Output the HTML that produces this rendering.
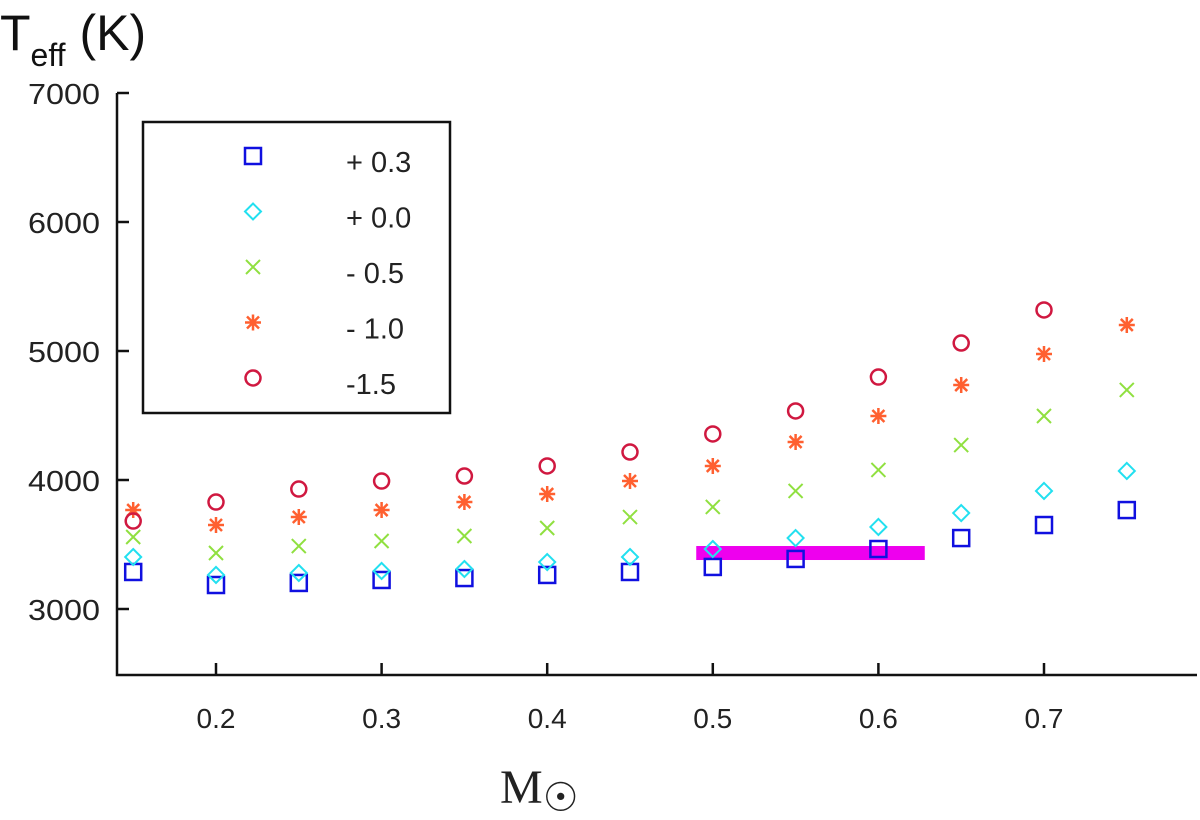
<!DOCTYPE html>
<html><head><meta charset="utf-8"><style>
body{margin:0;background:#fff;}
svg{display:block;font-family:"Liberation Sans",sans-serif;}
</style></head><body>
<svg id="chart" width="1200" height="820" viewBox="0 0 1200 820">
<text x="0" y="50" font-size="50" fill="#111">T<tspan font-size="32" dy="16">eff</tspan><tspan dy="-16"> (K)</tspan></text>
<text x="500" y="803" font-size="48" font-family="Liberation Serif,serif" fill="#222">M<tspan font-size="40" dy="8">☉</tspan></text>
<g id="axes"></g>
<g id="marks"></g>
<g id="legend"></g>
</svg>
<script>
const masses=[0.15,0.2,0.25,0.3,0.35,0.4,0.45,0.5,0.55,0.6,0.65,0.7,0.75];
const xTicks=[0.2,0.3,0.4,0.5,0.6,0.7];
const yTicks=[3000,4000,5000,6000,7000];
const seriesP03=[3287,3186,3202,3225,3240,3264,3287,3326,3388,3465,3550,3651,3767];
const seriesP00=[3403,3264,3279,3295,3310,3364,3403,3465,3550,3636,3744,3915,4070];
const seriesM05=[3558,3434,3488,3527,3566,3628,3713,3791,3915,4078,4271,4496,4698];
const seriesM10=[3767,3651,3713,3767,3829,3891,3992,4109,4295,4496,4736,4977,5202];
const seriesM15=[3682,3829,3930,3992,4031,4109,4217,4357,4535,4798,5062,5318];
const legendLabels=["+ 0.3","+ 0.0","- 0.5","- 1.0","-1.5"];
const bandRange=[0.49,0.628];
const bandValue=3434;

const NS="http://www.w3.org/2000/svg";
const X=m=>216+(m-0.2)*1656;
const Y=v=>93+(7000-v)*0.129;
function mk(tag,attrs,parent){const e=document.createElementNS(NS,tag);for(const k in attrs)e.setAttribute(k,attrs[k]);parent.appendChild(e);return e;}
const axes=document.getElementById('axes'),marks=document.getElementById('marks'),legend=document.getElementById('legend');
let e=mk('path',{d:'M117 93 V675 H1197',fill:'none',stroke:'#111','stroke-width':2.5},axes);


yTicks.forEach(v=>{
 let t=mk('line',{x1:117,x2:129,y1:Y(v),y2:Y(v),stroke:'#111','stroke-width':2.5},axes);
 
 
 let l=mk('text',{x:100,y:Y(v)+11,'font-size':29,'text-anchor':'end',fill:'#222',textLength:72,lengthAdjust:'spacingAndGlyphs'},axes);l.textContent=v;
 
 
});
xTicks.forEach(m=>{
 let t=mk('line',{x1:X(m),x2:X(m),y1:663,y2:675,stroke:'#111','stroke-width':2.5},axes);
 
 
 let l=mk('text',{x:X(m),y:728,'font-size':28,'text-anchor':'middle',fill:'#222',textLength:39,lengthAdjust:'spacingAndGlyphs'},axes);l.textContent=m.toFixed(1);
 
 
});
let band=mk('rect',{x:X(bandRange[0]),y:Y(bandValue)-7,width:X(bandRange[1])-X(bandRange[0]),height:14,fill:'#ee00ee'},marks);


function marker(type,cx,cy,parent){
 let g=mk('g',{},parent);
 if(type==='sq')mk('rect',{x:cx-8,y:cy-8,width:16,height:16,fill:'none',stroke:'#1010e0','stroke-width':2.5},g);
 else if(type==='di')mk('path',{d:`M${cx} ${cy-8}L${cx+8} ${cy}L${cx} ${cy+8}L${cx-8} ${cy}Z`,fill:'none',stroke:'#22e0f0','stroke-width':2},g);
 else if(type==='x')mk('path',{d:`M${cx-7} ${cy-7}L${cx+7} ${cy+7}M${cx+7} ${cy-7}L${cx-7} ${cy+7}`,stroke:'#90e040','stroke-width':2},g);
 else if(type==='st')mk('path',{d:`M${cx-8} ${cy}H${cx+8}M${cx} ${cy-8}V${cy+8}M${cx-6} ${cy-6}L${cx+6} ${cy+6}M${cx+6} ${cy-6}L${cx-6} ${cy+6}`,stroke:'#ff6030','stroke-width':2.5},g);
 else mk('circle',{cx:cx,cy:cy,r:7.5,fill:'none',stroke:'#d01840','stroke-width':2.5},g);
 return g;
}
const defs=[['sq',seriesP03,'square'],['di',seriesP00,'diamond'],['x',seriesM05,'cross'],['st',seriesM10,'asterisk'],['ci',seriesM15,'circle']];
defs.forEach(([t,arr,nm])=>{
 arr.forEach((v,i)=>{
  let g=marker(t,X(masses[i]),Y(v),marks);
  
  
 });
});
let box=mk('rect',{x:143,y:122,width:307,height:291,fill:'none',stroke:'#111','stroke-width':2.5},legend);


defs.forEach(([t],i)=>{
 const cy=156+i*55.5;
 let g=marker(t,253,cy,legend);
 
 
 let l=mk('text',{x:346,y:cy+16,'font-size':29,fill:'#222'},legend);l.textContent=legendLabels[i];
 
 
});
</script>
</body></html>
